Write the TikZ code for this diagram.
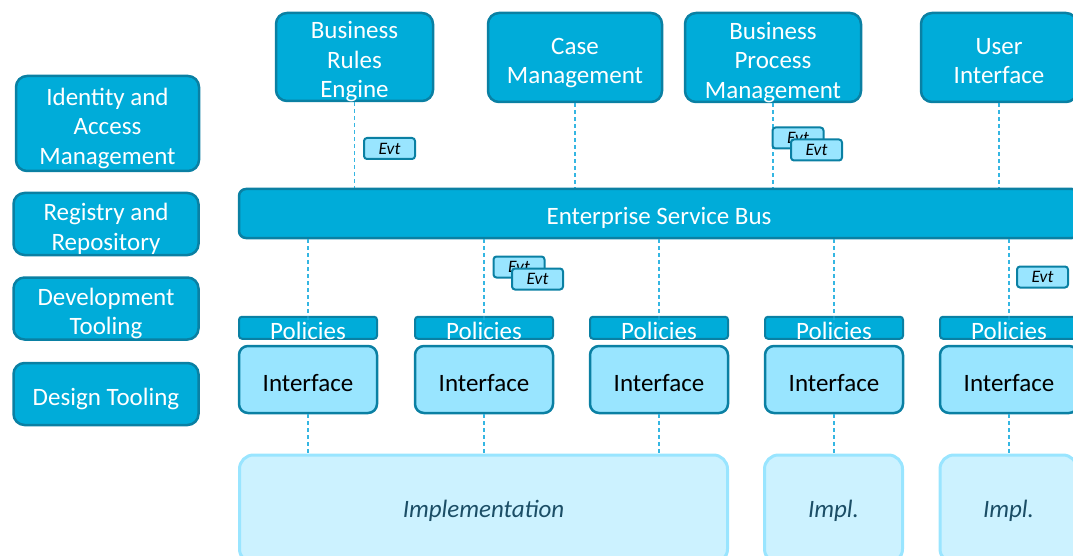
\documentclass[tikz,border=0pt]{standalone}
\usepackage{fontspec}
\setmainfont{Carlito}
\usetikzlibrary{positioning}
\definecolor{busblue}{HTML}{00ACD9}
\definecolor{busline}{HTML}{0A80A3}
\definecolor{ifblue}{HTML}{99E5FF}
\definecolor{implfill}{HTML}{CCF2FF}
\definecolor{impltext}{HTML}{1B4E66}
\definecolor{linkblue}{HTML}{35B6E2}
\newcommand\boxfont{\fontsize{25}{29.5}\selectfont}
% a tall strut on the first line pushes the text a little down
\newcommand\lowstrut{\rule{0pt}{23pt}}
\tikzstyle{svc}=[draw=busline,fill=busblue,line width=2.5pt,rounded corners=11pt,
  text=white,align=center,inner sep=0pt,text depth=0pt,font=\boxfont,
  execute at begin node=\lowstrut]
\tikzstyle{tool}=[minimum width=185pt,minimum height=62pt]
\tikzstyle{iface}=[draw=busline,fill=ifblue,line width=2.5pt,rounded corners=9pt,
  minimum width=138pt,minimum height=67pt,text depth=0pt,font=\boxfont,
  execute at begin node=\lowstrut]
\tikzstyle{polbox}=[draw=busline,fill=busblue,line width=2pt,rounded corners=3pt,
  minimum width=138pt,minimum height=22pt,inner sep=0pt]
\tikzstyle{poltext}=[text=white,font=\boxfont,text depth=0pt,yshift=-3pt]
\tikzstyle{impl}=[draw=ifblue,fill=implfill,line width=3pt,rounded corners=14pt,
  minimum height=108pt,text depth=0pt,text=impltext,font=\boxfont\itshape]
\tikzstyle{evt}=[draw=busline,fill=ifblue,line width=2pt,rounded corners=3pt,
  minimum width=51pt,minimum height=21pt,inner sep=0pt,text depth=0pt,
  font=\itshape\fontsize{17.5}{17.5}\selectfont]
\tikzstyle{link}=[draw=linkblue,line width=1.2pt,dash pattern=on 4pt off 3pt]

\begin{document}
\begin{tikzpicture}[x=1pt,y=-1pt]
	\useasboundingbox (0,0) rectangle (1073,556);
	\clip (0,0) rectangle (1073,556);
	% tooling down the left side
	\node[svc,minimum width=183pt,minimum height=95pt] (iam) at (107.5,123.5) {\lowstrut Identity and\\Access\\Management};
	\node[svc,tool] (reg) at (106,224)   {\lowstrut Registry and\\Repository};
	\node[svc,tool] (dev) at (106,308.5) {\lowstrut Development\\Tooling};
	\node[svc,tool] (des) at (106,394)   {Design Tooling};
	% services on top of the bus
	\node[svc,minimum width=157pt,minimum height=88pt] (bre) at (354.5,57) {\lowstrut Business\\Rules\\Engine};
	\node[svc,minimum width=174pt,minimum height=89pt] (cm)  at (575,57.5)  {\lowstrut Case\\Management};
	\node[svc,minimum width=176pt,minimum height=89pt] (bpm) at (773,57.5)  {\lowstrut Business\\Process\\Management};
	\node[svc,minimum width=156pt,minimum height=89pt] (ui)  at (999,57.5)  {\lowstrut User\\Interface};
	\foreach \s in {bre,cm,bpm,ui}
		\draw[link] (\s.south) -- (\s.south |- 0,188);
	\node[svc,rounded corners=7pt,minimum width=840pt,minimum height=49pt] (esb) at (659,213.5) {Enterprise Service Bus};
	% implementations
	\node[impl,minimum width=488pt] (impl1) at (483.5,509) {Implementation};
	\node[impl,minimum width=138pt] (impl2) at (833.5,509) {Impl.};
	\node[impl,minimum width=137pt] (impl3) at (1008.5,509) {Impl.};
	% one interface per endpoint
	\foreach \x/\n in {308/1,484/2,659/3,834/4,1009/5}{
		\node[iface] (i\n) at (\x,379.5) {Interface};
		\node[polbox,above=5pt of i\n] (p\n) {};
		\draw[link] (esb.south -| i\n) -- (p\n.north);
		\draw[link,opacity=.45] (p\n.north) -- (p\n.south);
		\node[poltext] at (p\n) {Policies};
		\draw[link] (i\n.south) -- (i\n.south |- impl1.north);
	}
	% events
	\node[evt] (e1)  at (389.5,148.5) {Evt};
	\node[evt] (e2a) at (798,138) {Evt};
	\node[evt] (e2b) at (816.5,150) {Evt};
	\node[evt] (e3a) at (519,267) {Evt};
	\node[evt] (e3b) at (537.5,279) {Evt};
	\node[evt] (e4)  at (1042.5,277) {Evt};
\end{tikzpicture}
\end{document}
